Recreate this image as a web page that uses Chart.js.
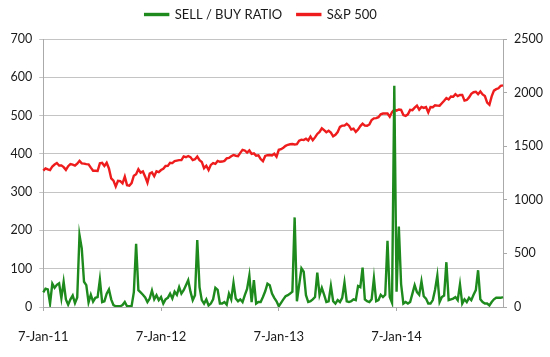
<!DOCTYPE html>
<html>
<head>
<meta charset="utf-8">
<script src="https://cdn.jsdelivr.net/npm/chart.js@4"></script>
<style>
  html, body { margin: 0; padding: 0; background: #ffffff; }
  #wrap { width: 550px; height: 357px; position: relative; }
</style>
</head>
<body>
<div id="wrap"><canvas id="c" width="550" height="357"></canvas></div>
<script>
// ---- DATA ----
const seriesNames = ['SELL / BUY RATIO', 'S&P 500'];

// weekly readings, 7-Jan-2011 .. 28-Nov-2014 (204 weeks)
const sellBuyRatio = [
  // 2011
  38,48,46,9,61,50,58,62,23,66,
  20,6,20,30,10,25,188,153,66,57,
  12,32,14,24,26,72,13,15,35,46,
  20,5,2,2,2,5,13,2,2,2,
  39,165,44,38,32,25,13,22,43,20,
  31,18,
  // 2012
  26,9,20,24,35,22,40,32,52,35,
  44,57,70,40,18,31,175,52,18,9,
  20,4,9,20,50,45,9,9,13,6,
  35,20,63,22,15,20,13,31,47,82,
  13,70,9,13,13,26,41,61,57,35,
  24,15,
  // 2013
  2,11,20,28,31,35,40,234,15,58,
  101,92,31,13,15,20,26,90,31,50,
  32,13,15,55,15,9,18,13,24,64,
  15,13,15,20,18,55,52,103,20,15,
  13,20,75,15,18,32,26,32,173,26,
  11,578,
  // 2014
  40,210,60,9,13,9,13,35,57,39,
  32,67,28,22,9,9,18,45,82,13,
  26,30,117,18,20,22,26,18,59,9,
  20,13,24,18,32,44,96,20,13,9,
  9,4,13,20,24,24,24,26
];

const sp500 = [
  // 2011
  1271.5,1293.2,1283.4,1276.3,1310.9,1329.2,1343.0,1319.9,1321.2,1304.3,
  1279.2,1313.8,1332.4,1328.2,1319.7,1337.4,1363.6,1340.2,1337.8,1333.3,
  1331.1,1300.2,1270.9,1271.5,1268.5,1339.7,1343.8,1316.1,1345.0,1292.3,
  1199.4,1178.8,1123.5,1176.8,1174.0,1154.2,1216.0,1136.4,1131.4,1155.5,
  1224.6,1238.3,1285.1,1253.2,1263.9,1215.7,1158.7,1244.3,1255.2,1219.7,
  1265.3,1257.6,
  // 2012
  1277.8,1289.1,1315.4,1316.3,1344.9,1342.6,1361.2,1365.7,1370.0,1370.9,
  1404.2,1397.1,1408.5,1398.1,1370.3,1378.5,1403.4,1369.1,1353.4,1295.2,
  1317.8,1278.0,1325.7,1342.8,1335.0,1362.2,1354.7,1356.8,1362.7,1386.0,
  1391.0,1405.9,1418.2,1411.1,1406.6,1437.9,1465.8,1460.2,1440.7,1460.9,
  1428.6,1433.2,1411.9,1414.2,1379.9,1359.9,1409.2,1416.2,1418.1,1413.6,
  1430.2,1402.4,
  // 2013
  1466.5,1472.1,1486.0,1503.0,1513.2,1517.9,1519.8,1515.6,1518.2,1551.2,
  1560.7,1556.9,1569.2,1553.3,1588.9,1555.3,1582.2,1614.4,1633.7,1667.5,
  1649.6,1630.7,1643.4,1626.7,1592.4,1606.3,1631.9,1680.2,1692.1,1691.7,
  1709.7,1691.4,1655.8,1663.5,1633.0,1655.2,1688.0,1709.9,1691.8,1690.5,
  1703.2,1744.5,1759.8,1761.6,1770.6,1798.2,1804.8,1805.8,1805.1,1775.3,
  1818.3,1841.4,
  // 2014
  1831.4,1842.4,1838.7,1790.3,1782.6,1797.0,1838.6,1836.3,1859.5,1878.0,
  1841.1,1866.5,1857.6,1865.1,1815.7,1864.9,1863.4,1881.1,1878.5,1877.9,
  1900.5,1923.6,1949.4,1936.2,1962.9,1961.0,1985.4,1967.6,1978.2,1978.3,
  1925.2,1931.6,1955.1,1988.4,2003.4,2007.7,1985.5,2010.4,1982.9,1967.9,
  1906.1,1886.8,1964.6,2018.1,2031.9,2039.8,2063.5,2067.6
];

const xTickIndex  = [0, 52, 104, 156];
const xTickLabels = ['7-Jan-11', '7-Jan-12', '7-Jan-13', '7-Jan-14'];
const leftTicks  = [0, 100, 200, 300, 400, 500, 600, 700];
const rightTicks = [0, 500, 1000, 1500, 2000, 2500];

// weekly category labels
const monthNames = ['Jan','Feb','Mar','Apr','May','Jun','Jul','Aug','Sep','Oct','Nov','Dec'];
const weekLabels = [];
{
  const start = new Date(Date.UTC(2011, 0, 7));
  for (let i = 0; i < sp500.length; i++) {
    const d = new Date(start.getTime() + i * 7 * 86400000);
    weekLabels.push(d.getUTCDate() + '-' + monthNames[d.getUTCMonth()] + '-' + String(d.getUTCFullYear()).slice(2));
  }
}

// ---- STYLE ----
const GREEN = '#1e8a1e';
const RED = '#ee1c1c';
const GRID = '#c4c4c4';
const AXIS = '#aaaaaa';
const TEXT = '#1a1a1a';
const FONT = 'Lato, "Open Sans", sans-serif';

Chart.defaults.font.family = FONT;
Chart.defaults.color = TEXT;

// shift the legend slightly left / up, as in the reference
const legendShift = {
  id: 'legendShift',
  afterLayout(chart) {
    const l = chart.legend;
    if (!l) return;
    l.left -= 28;
    l.width += 28;
    l.top -= 8;
    l.bottom -= 8;
  }
};

new Chart(document.getElementById('c'), {
  type: 'line',
  data: {
    labels: weekLabels,
    datasets: [
      {
        label: seriesNames[0],
        data: sellBuyRatio,
        yAxisID: 'yL',
        borderColor: GREEN,
        backgroundColor: GREEN,
        borderWidth: 2.4,
        pointRadius: 0,
        tension: 0
      },
      {
        label: seriesNames[1],
        data: sp500,
        yAxisID: 'yR',
        borderColor: RED,
        backgroundColor: RED,
        borderWidth: 2.4,
        pointRadius: 0,
        tension: 0
      }
    ]
  },
  options: {
    responsive: false,
    animation: false,
    devicePixelRatio: 1,
    layout: { padding: { top: 0, left: 0, right: 0, bottom: 0 } },
    plugins: {
      legend: {
        display: true,
        position: 'top',
        labels: {
          boxWidth: 23,
          boxHeight: 1,
          padding: 15,
          font: { size: 13, family: FONT },
          color: TEXT
        }
      },
      tooltip: { enabled: false }
    },
    scales: {
      x: {
        type: 'category',
        offset: false,
        grid: {
          display: true,
          drawOnChartArea: false,
          drawTicks: true,
          tickLength: 4,
          color: AXIS
        },
        border: { display: true, color: AXIS, width: 1 },
        ticks: {
          autoSkip: false,
          maxRotation: 0,
          minRotation: 0,
          padding: 18,
          font: { size: 13, family: FONT },
          color: TEXT,
          callback: function (value) {
            const k = xTickIndex.indexOf(value);
            return k >= 0 ? xTickLabels[k] : '';
          }
        },
        afterBuildTicks: function (scale) {
          scale.ticks = xTickIndex.map(v => ({ value: v }));
        },
        afterFit: function (scale) { scale.height = 50; }
      },
      yL: {
        type: 'linear',
        position: 'left',
        min: 0,
        max: 700,
        grid: {
          display: true,
          drawOnChartArea: true,
          drawTicks: true,
          tickLength: 4,
          color: GRID
        },
        border: { display: true, color: AXIS, width: 1 },
        ticks: {
          padding: 7,
          font: { size: 12.5, family: FONT },
          color: TEXT,
          callback: v => String(v)
        },
        afterBuildTicks: function (scale) {
          scale.ticks = leftTicks.map(v => ({ value: v }));
        },
        afterFit: function (scale) {
          scale.width = 42;
          scale.paddingTop = 39;
        }
      },
      yR: {
        type: 'linear',
        position: 'right',
        min: 0,
        max: 2500,
        grid: {
          display: true,
          drawOnChartArea: false,
          drawTicks: true,
          tickLength: 4,
          color: AXIS
        },
        border: { display: true, color: AXIS, width: 1 },
        ticks: {
          padding: 7,
          font: { size: 12.5, family: FONT },
          color: TEXT,
          callback: v => String(v)
        },
        afterBuildTicks: function (scale) {
          scale.ticks = rightTicks.map(v => ({ value: v }));
        },
        afterFit: function (scale) {
          scale.width = 47;
          scale.paddingTop = 39;
        }
      }
    }
  },
  plugins: [legendShift]
});
</script>
</body>
</html>
